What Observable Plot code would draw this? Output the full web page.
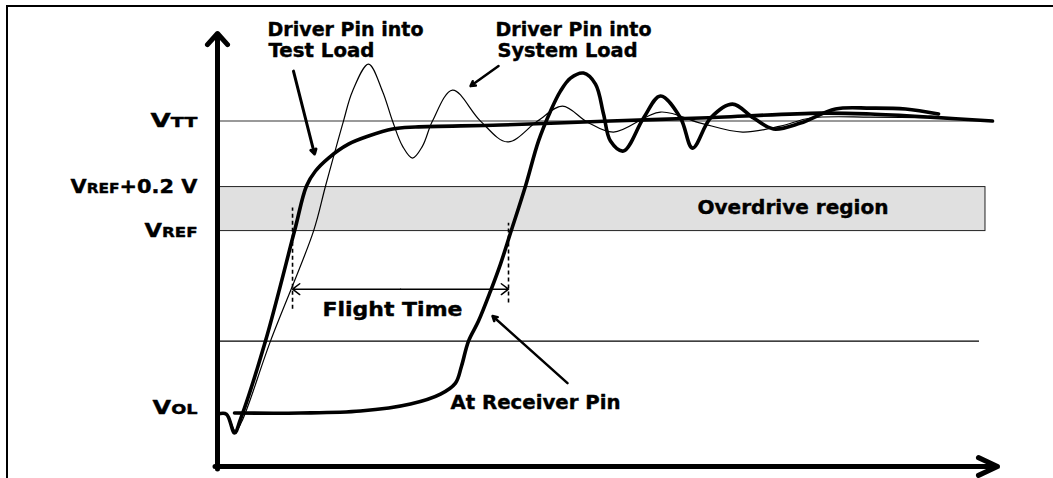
<!DOCTYPE html>
<html><head><meta charset="utf-8">
<script src="https://cdn.jsdelivr.net/npm/d3@7"></script>
<script src="https://cdn.jsdelivr.net/npm/@observablehq/plot@0.6"></script>
<style>
html,body{margin:0;padding:0;background:#fff;overflow:hidden}
#chart{position:relative;width:1053px;height:478px}
.bar{position:absolute;background:#000;pointer-events:none}
#frameTop{left:6px;top:5px;width:1047px;height:2px}
#frameLeft{left:6px;top:5px;width:2px;height:473px}
svg{display:block}
</style></head><body>
<div id="chart"></div>
<script>
// time in ns, voltage in V
const testLoad = [[0,0.168],[0.115,0.168],[0.218,0.082],[0.295,0.145],[0.615,0.5],[0.987,1.0],[1.141,1.205],[1.256,1.273],[1.423,1.332],[1.679,1.395],[1.936,1.432],[2.244,1.464],[2.538,1.473],[3.628,1.482],[5.038,1.5],[6.192,1.514],[7.731,1.536],[8.372,1.532],[9.141,1.518],[9.936,1.5]];
const systemLoad = [[0,0.168],[0.115,0.168],[0.231,0.091],[0.308,0.132],[0.679,0.5],[1.231,1.0],[1.385,1.205],[1.615,1.5],[1.731,1.636],[1.936,1.759],[2.115,1.636],[2.244,1.5],[2.372,1.386],[2.5,1.332],[2.628,1.386],[2.756,1.5],[3.013,1.641],[3.372,1.5],[3.718,1.405],[4.103,1.5],[4.423,1.568],[4.744,1.495],[5.077,1.45],[5.679,1.541],[6.192,1.491],[6.731,1.45],[7.218,1.477],[7.603,1.514],[8.372,1.518],[9.141,1.514],[9.936,1.5]];
const receiverPin = [[0.218,0.173],[1.064,0.173],[1.833,0.182],[2.474,0.214],[2.859,0.259],[3.051,0.309],[3.128,0.386],[3.218,0.5],[3.346,0.591],[3.5,0.727],[3.628,0.85],[3.756,0.991],[3.949,1.205],[4.115,1.409],[4.269,1.545],[4.397,1.636],[4.526,1.695],[4.692,1.718],[4.846,1.668],[4.949,1.532],[5.038,1.409],[5.205,1.364],[5.462,1.514],[5.679,1.614],[5.936,1.514],[6.09,1.377],[6.321,1.514],[6.603,1.577],[6.872,1.514],[7.128,1.464],[7.474,1.491],[7.923,1.555],[8.372,1.559],[8.821,1.555],[9.244,1.532]];

const levelParts = [["V","TT",""],["V","REF","+0.2 V"],["V","REF",""],["V","OL",""]];
const levelValues = [1.5, 1.2, 1.0, 0.168];
const levelWidths = [47, 127, 53, 45];

const guideLevels = [1.5, 0.5];
const guideEnds = [9.936, 9.769];
const bandLow = 1.0, bandHigh = 1.2, bandEnd = 9.846;

const annoTexts = ["Driver Pin into","Test Load","Driver Pin into","System Load","Flight Time","Overdrive region","At Receiver Pin"];
const annoT = [0.641, 0.654, 3.564, 3.59, 1.346, 6.154, 2.987];
const annoV = [1.886, 1.791, 1.886, 1.791, 0.614, 1.077, 0.191];
const annoWidths = [156, 106, 157, 140, 140, 191, 170];

const pointerArrows = [
  {t1:0.974, v1:1.727, t2:1.244, v2:1.35, w:3},
  {t1:3.603, v1:1.75, t2:3.244, v2:1.659, w:2.5},
  {t1:4.487, v1:0.309, t2:3.526, v2:0.614, w:2.5}
];
const flightStart = 0.962, flightEnd = 3.731, flightLevel = 0.736;
const flightMarkers = [{t:0.962, lo:0.645, hi:1.105},{t:3.731, lo:0.673, hi:1.036}];

const xMax = 10, yMin = -0.07, yMax = 1.898;

const levels = levelParts.map((p,i)=>({text:p.join(""), v:levelValues[i], i}));
const guides = guideLevels.map((v,i)=>({v, end:guideEnds[i]}));
const annos = annoTexts.map((text,i)=>({text, t:annoT[i], v:annoV[i]}));
const flightMid = (flightStart+flightEnd)/2;

const svg = Plot.plot({
  width:1053, height:478,
  marginLeft:217, marginRight:56, marginTop:33, marginBottom:12,
  x:{domain:[0,xMax], axis:null},
  y:{domain:[yMin,yMax], axis:null},
  style:{fontFamily:"DejaVu Sans", background:"transparent"},
  marks:[
    Plot.rect([{lo:bandLow, hi:bandHigh, end:bandEnd}], {x1:()=>0, x2:"end", y1:"lo", y2:"hi", fill:"#e0e0e0", stroke:"#222", strokeWidth:1}),
    Plot.ruleY(guides, {y:"v", x1:()=>0, x2:"end", stroke:(d)=>d.v>1?"#777":"#000", strokeWidth:(d)=>d.v>1?1.4:1.1}),
    Plot.ruleX(flightMarkers, {x:"t", y1:"lo", y2:"hi", stroke:"#000", strokeWidth:1.6, strokeDasharray:"4,3"}),
    Plot.line(systemLoad, {x:d=>d[0], y:d=>d[1], curve:"catmull-rom", stroke:"#000", strokeWidth:1.2}),
    Plot.line(testLoad, {x:d=>d[0], y:d=>d[1], curve:"catmull-rom", stroke:"#000", strokeWidth:3.6}),
    Plot.line(receiverPin, {x:d=>d[0], y:d=>d[1], curve:"catmull-rom", stroke:"#000", strokeWidth:3.6}),
    Plot.arrow(pointerArrows, {x1:"t1", y1:"v1", x2:"t2", y2:"v2", strokeWidth:"w", stroke:"#000", headLength:8, headAngle:60}),
    Plot.arrow([{a:flightStart},{a:flightEnd}], {x1:()=>flightMid, y1:()=>flightLevel, x2:"a", y2:()=>flightLevel, stroke:"#000", strokeWidth:1.5, headLength:9, headAngle:74}),
    Plot.text(annos, {x:"t", y:"v", text:"text", textAnchor:"start", lineAnchor:"bottom", fontSize:19, fontWeight:"bold", fill:"#000", stroke:"#000", strokeWidth:0.4}),
    Plot.text(levels, {x:()=>0, y:"v", text:"text", textAnchor:"end", lineAnchor:"middle", dx:-20, fontSize:19, fontWeight:"bold", fill:"#000", stroke:"#000", strokeWidth:0.4}),
    Plot.arrow([{x1:0, y1:yMin-0.0114, x2:0, y2:yMax}], {x1:"x1", y1:"y1", x2:"x2", y2:"y2", stroke:"#000", strokeWidth:5, headLength:4.5, headAngle:84}),
    Plot.arrow([{x1:-0.032, y1:yMin, x2:xMax, y2:yMin}], {x1:"x1", y1:"y1", x2:"x2", y2:"y2", stroke:"#000", strokeWidth:5, headLength:6.3, headAngle:50})
  ]
});

const levelFull = levelParts.map(p=>p.join(""));
d3.select(svg).selectAll("text").each(function(){
  const s = this.textContent;
  const li = levelFull.indexOf(s);
  if (li >= 0) {
    const [a,b,c] = levelParts[li];
    this.textContent = "";
    const sel = d3.select(this);
    sel.append("tspan").attr("font-size",19).text(a);
    sel.append("tspan").attr("font-size",14).text(b);
    if (c) sel.append("tspan").attr("font-size",19).text(c);
    if (s === "VOL") this.setAttribute("y", "0em");
    this.setAttribute("textLength", levelWidths[li]);
    this.setAttribute("lengthAdjust", "spacingAndGlyphs");
    return;
  }
  const ai = annoTexts.indexOf(s);
  if (ai >= 0) {
    this.setAttribute("textLength", annoWidths[ai]);
    this.setAttribute("lengthAdjust", "spacingAndGlyphs");
  }
});

const chart = document.getElementById("chart");
chart.appendChild(svg);
for (const id of ["frameTop","frameLeft"]) {
  const b = document.createElement("div");
  b.id = id; b.className = "bar";
  chart.appendChild(b);
}
</script></body></html>
